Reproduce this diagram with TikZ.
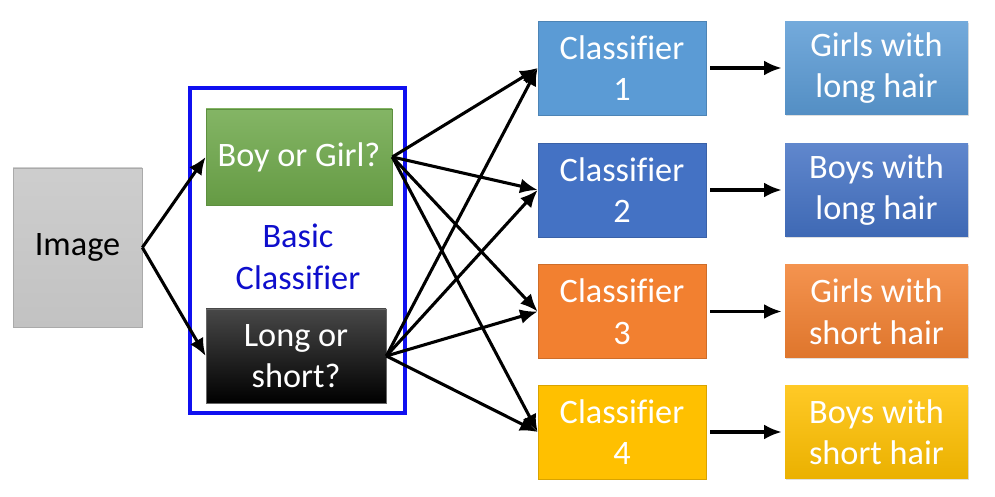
\documentclass[tikz,border=0pt]{standalone}
\usepackage{fontspec}
\setmainfont{Carlito}[Ligatures=NoCommon]
\usetikzlibrary{arrows.meta,shadows}

\definecolor{imggray}{HTML}{C8C8C8}
\definecolor{basicgreen}{HTML}{6EA84A}
\definecolor{framblue}{HTML}{1010F0}
\definecolor{clsone}{HTML}{5B9BD5}
\definecolor{clstwo}{HTML}{4472C4}
\definecolor{clsthree}{HTML}{F28030}
\definecolor{clsfour}{HTML}{FFC000}

\tikzset{
    cbox/.style={draw=#1!85!black, fill=#1, text=white, minimum width=3.36cm, minimum height=1.88cm, align=center, inner sep=0pt},
    obox/.style={top color=#1!85!white, bottom color=#1!92!black, draw=none, text=white, minimum width=3.66cm, minimum height=1.86cm, align=center, inner sep=0pt,
        drop shadow={opacity=0.25, shadow xshift=0.6pt, shadow yshift=-0.8pt}},
    link/.style={-{Latex[length=10pt,width=8.5pt]}, line width=1.75pt},
}

\begin{document}
\begin{tikzpicture}[font=\fontsize{19.5}{23.6}\selectfont]
        \useasboundingbox (0,0) rectangle (19.9,9.94);

        % left part
        \node[top color=imggray!90!white, bottom color=imggray!97!black, draw=imggray!85!black, minimum width=2.58cm, minimum height=3.18cm, inner sep=0pt] (image) at (1.55, 4.99) {Image};

        \draw[framblue, line width=2pt] (3.8, 1.68) rectangle (8.1, 8.18);

        \node[top color=basicgreen!85!white, bottom color=basicgreen!92!black, draw=basicgreen!85!black, text=white, minimum width=3.72cm, minimum height=1.92cm, inner sep=0pt] (gender) at (5.98, 6.8) {Boy or Girl?};
        \node[top color=black!72, bottom color=black, draw=black!60, text=white, minimum width=3.6cm, minimum height=1.88cm, align=center, inner sep=0pt] (hair) at (5.92, 2.82) {Long or\\short?};
        \node[text=framblue!85!black, align=center] (basic) at (5.96, 4.8) {Basic\\Classifier};

        % classifiers
        \node[cbox=clsone] (cls1) at (12.44, 8.58) {Classifier\\1};
        \node[cbox=clstwo] (cls2) at (12.44, 6.14) {Classifier\\2};
        \node[cbox=clsthree] (cls3) at (12.44, 3.71) {Classifier\\3};
        \node[cbox=clsfour] (cls4) at (12.44, 1.30) {Classifier\\4};

        % results
        \node[obox=clsone] (out1) at (17.53, 8.58) {Girls with\\long hair};
        \node[obox=clstwo] (out2) at (17.53, 6.14) {Boys with\\long hair};
        \node[obox=clsthree] (out3) at (17.53, 3.71) {Girls with\\short hair};
        \node[obox=clsfour] (out4) at (17.53, 1.30) {Boys with\\short hair};

        \draw[link] (image.east) -- (gender.west);
        \draw[link] (image.east) -- (hair.west);

        \foreach \i in {1,...,4} {
            \draw[link] (gender.east) -- (cls\i.west);
            \draw[link] (hair.east) -- (cls\i.west);
            \draw[link, shorten <=0.08cm, shorten >=0.06cm] (cls\i.east) -- (out\i.west);
        }

    \end{tikzpicture}
\end{document}
